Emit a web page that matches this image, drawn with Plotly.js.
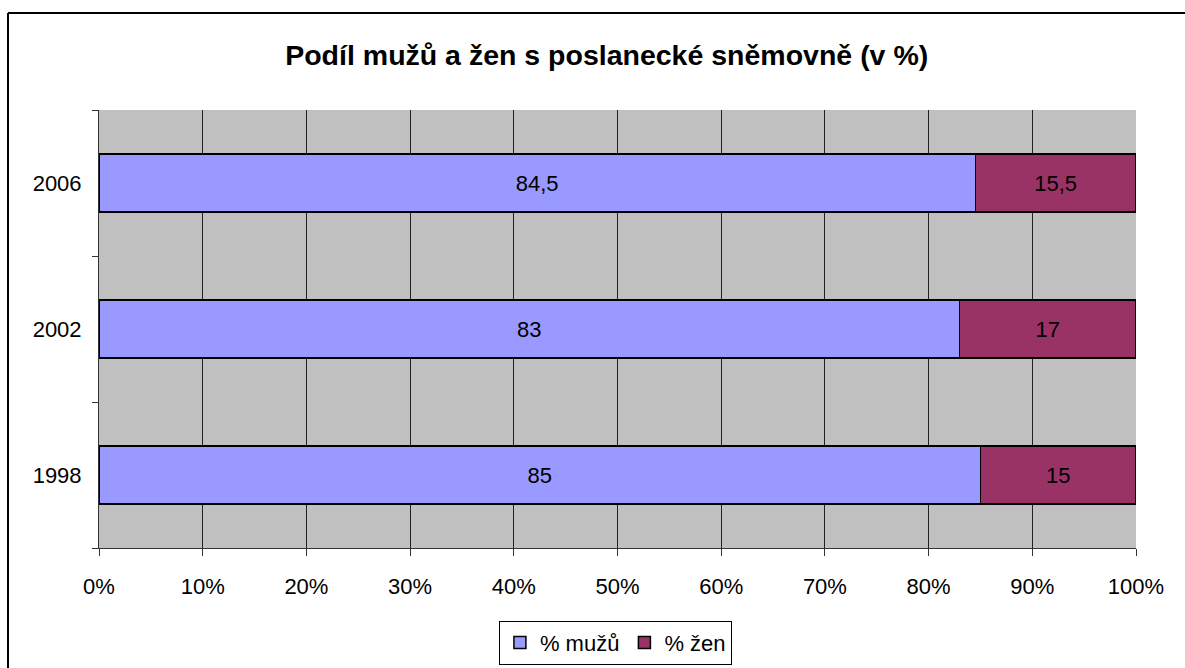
<!DOCTYPE html>
<html>
<head>
<meta charset="utf-8">
<script src="https://cdn.plot.ly/plotly-3.0.1.min.js"></script>
<style>
html,body{margin:0;padding:0;background:#fff;}
#chart{width:1185px;height:668px;}
</style>
</head>
<body>
<div id="chart"></div>
<script>
const years = ['1998', '2002', '2006'];
const men = [85, 83, 84.5];
const women = [15, 17, 15.5];
const seriesNames = ['% mužů', '% žen'];
const xTickVals = [0, 10, 20, 30, 40, 50, 60, 70, 80, 90, 100];
const titleText = 'Podíl mužů a žen s poslanecké sněmovně (v %)';

const fmt = v => String(v).replace('.', ',');
const FONT = 'Liberation Sans, Arial, sans-serif';
const FS = 22;

const traces = [
  {
    type: 'bar', orientation: 'h', name: seriesNames[0],
    y: years, x: men, text: men.map(fmt),
    textposition: 'inside', insidetextanchor: 'middle',
    textfont: {family: FONT, size: FS, color: '#000'},
    marker: {color: '#9999FF', line: {color: '#000', width: 1.5}},
    width: 0.4, hoverinfo: 'none'
  },
  {
    type: 'bar', orientation: 'h', name: seriesNames[1],
    y: years, x: women, text: women.map(fmt),
    textposition: 'inside', insidetextanchor: 'middle',
    textfont: {family: FONT, size: FS, color: '#000'},
    marker: {color: '#993366', line: {color: '#000', width: 1.5}},
    width: 0.4, hoverinfo: 'none'
  }
];

const layout = {
  width: 1185, height: 668,
  margin: {l: 99, r: 49, t: 110, b: 120, autoexpand: false},
  paper_bgcolor: '#fff', plot_bgcolor: '#C0C0C0',
  barmode: 'stack',
  font: {family: FONT, size: FS, color: '#000'},
  title: {text: '<b>' + titleText + '</b>', x: 0.512, xref: 'container', xanchor: 'center',
          y: 0.918, yref: 'container', yanchor: 'middle',
          font: {family: FONT, size: 28.5, color: '#000'}},
  xaxis: {
    range: [0, 100], tickvals: xTickVals, ticktext: xTickVals.map(v => v + '%'),
    showgrid: true, gridcolor: '#222', gridwidth: 1,
    showline: true, linecolor: '#333', linewidth: 1,
    ticks: 'outside', ticklen: 7, tickcolor: '#333',
    ticklabelstandoff: 12, zeroline: false, fixedrange: true,
    tickfont: {family: FONT, size: FS, color: '#000'}
  },
  yaxis: {
    type: 'category', categoryorder: 'array', categoryarray: years,
    range: [-0.5, 2.5],
    showgrid: false, showline: true, linecolor: '#333', linewidth: 1,
    ticks: 'outside', tickson: 'boundaries', ticklen: 6, tickcolor: '#333',
    ticklabelstandoff: 12, zeroline: false, fixedrange: true,
    tickfont: {family: FONT, size: FS, color: '#000'}
  },
  showlegend: true,
  legend: {
    orientation: 'h', x: 0.498, xanchor: 'center', y: -0.166, yanchor: 'top',
    bordercolor: '#000', borderwidth: 1, bgcolor: '#fff',
    font: {family: FONT, size: FS, color: '#000'},
    traceorder: 'normal', itemwidth: 30
  },
  shapes: [
    {type: 'line', xref: 'paper', yref: 'paper',
     x0: (8 - 99) / 1037, x1: 1.2, y0: (548 - 13) / 438, y1: (548 - 13) / 438,
     line: {color: '#000', width: 2}, layer: 'below'},
    {type: 'line', xref: 'paper', yref: 'paper',
     x0: (8 - 99) / 1037, x1: (8 - 99) / 1037, y0: -0.5, y1: (548 - 13) / 438,
     line: {color: '#000', width: 2}, layer: 'below'}
  ]
};

Plotly.newPlot('chart', traces, layout, {displayModeBar: false, staticPlot: true});
</script>
</body>
</html>
